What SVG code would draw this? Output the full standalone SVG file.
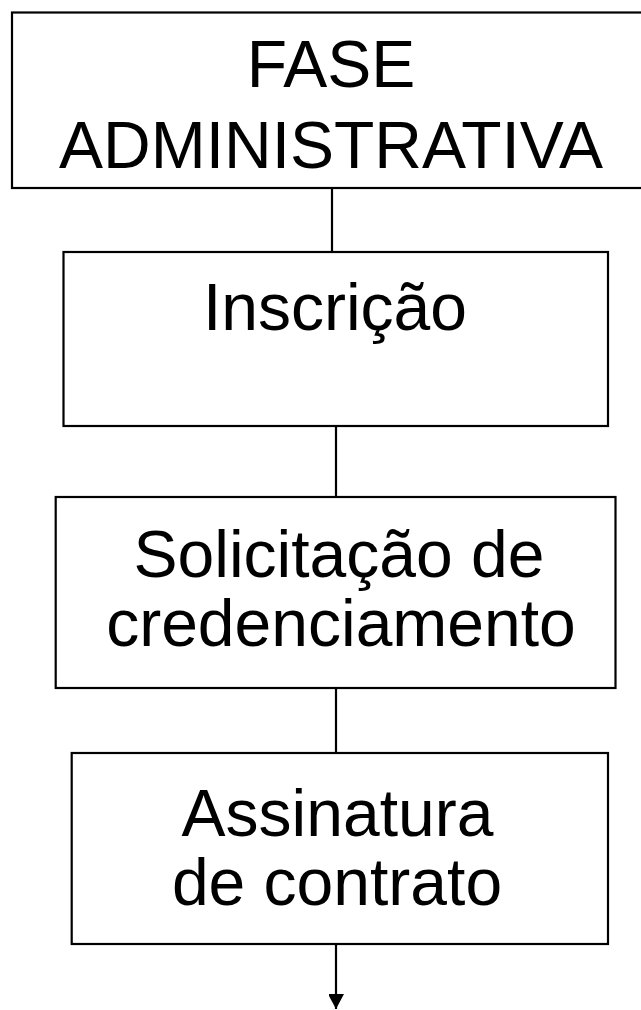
<svg xmlns="http://www.w3.org/2000/svg" width="641" height="1010" viewBox="0 0 641 1010">
<style>
.box{fill:#ffffff;stroke:#000000;stroke-width:2.2}
.lbl{font-family:"Liberation Sans",Arial,sans-serif;font-size:66px;fill:#000000;text-anchor:middle}
.conn{stroke:#000000;stroke-width:2.2;fill:none}
</style>
<defs>
<marker id="arr" markerWidth="16" markerHeight="15" refX="15" refY="8" orient="auto" markerUnits="userSpaceOnUse">
<path d="M0,0 L15,8 L0,16 Z" fill="#000000"/>
</marker>
</defs>
<rect width="641" height="1010" fill="#ffffff"/>
<g id="connectors">
<line class="conn" x1="332" y1="188" x2="332" y2="256"/>
<line class="conn" x1="336" y1="426" x2="336" y2="497"/>
<line class="conn" x1="336" y1="688" x2="336" y2="753"/>
<line class="conn" x1="336" y1="944" x2="336" y2="1009" marker-end="url(#arr)"/>
</g>
<g id="node-fase">
<rect class="box" x="12" y="12.5" width="640" height="175.5"/>
<text class="lbl" x="331" y="87">FASE</text>
<text class="lbl" x="331" y="168">ADMINISTRATIVA</text>
</g>
<g id="node-inscricao">
<rect class="box" x="63.5" y="252" width="544.5" height="174"/>
<text class="lbl" x="335" y="330">Inscrição</text>
</g>
<g id="node-solicitacao">
<rect class="box" x="55.7" y="497" width="559.8" height="191"/>
<text class="lbl" x="339" y="577">Solicitação de</text>
<text class="lbl" x="341" y="646">credenciamento</text>
</g>
<g id="node-assinatura">
<rect class="box" x="71.7" y="753" width="536.3" height="191"/>
<text class="lbl" x="337.5" y="836">Assinatura</text>
<text class="lbl" x="337" y="905">de contrato</text>
</g>
</svg>
